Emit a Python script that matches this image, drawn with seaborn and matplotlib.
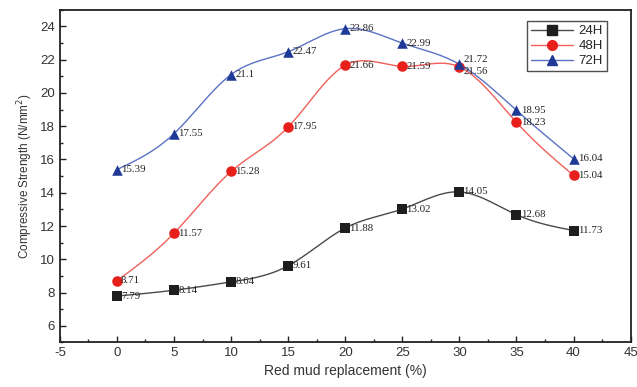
import numpy as np
import pandas as pd
import matplotlib
matplotlib.use("Agg")
import matplotlib.pyplot as plt
import seaborn as sns
from matplotlib.ticker import MultipleLocator, AutoMinorLocator

replacement = [0, 5, 10, 15, 20, 25, 30, 35, 40]
strength_24h = [7.79, 8.14, 8.64, 9.61, 11.88, 13.02, 14.05, 12.68, 11.73]
strength_48h = [8.71, 11.57, 15.28, 17.95, 21.66, 21.59, 21.56, 18.23, 15.04]
strength_72h = [15.39, 17.55, 21.1, 22.47, 23.86, 22.99, 21.72, 18.95, 16.04]
series_names = ["24H", "48H", "72H"]


def natural_spline(x, y, n=300):
    """Smooth connecting curve through the measured points (natural cubic spline)."""
    x = np.asarray(x, float)
    y = np.asarray(y, float)
    k = len(x)
    h = np.diff(x)
    A = np.zeros((k, k))
    b = np.zeros(k)
    A[0, 0] = A[-1, -1] = 1
    for i in range(1, k - 1):
        A[i, i - 1] = h[i - 1]
        A[i, i] = 2 * (h[i - 1] + h[i])
        A[i, i + 1] = h[i]
        b[i] = 6 * ((y[i + 1] - y[i]) / h[i] - (y[i] - y[i - 1]) / h[i - 1])
    M = np.linalg.solve(A, b)
    xs = np.linspace(x[0], x[-1], n)
    idx = np.clip(np.searchsorted(x, xs) - 1, 0, k - 2)
    x0, x1 = x[idx], x[idx + 1]
    hh = x1 - x0
    t0 = x1 - xs
    t1 = xs - x0
    ys = (M[idx] * t0**3 + M[idx + 1] * t1**3) / (6 * hh) \
        + (y[idx] / hh - M[idx] * hh / 6) * t0 \
        + (y[idx + 1] / hh - M[idx + 1] * hh / 6) * t1
    return xs, ys


sns.set_theme(style="ticks")
plt.rcParams["font.family"] = ["Liberation Sans", "DejaVu Sans"]
plt.rcParams["axes.unicode_minus"] = False

fig, ax = plt.subplots(figsize=(6.37, 3.87), dpi=100)
fig.subplots_adjust(left=0.094, right=0.99, top=0.975, bottom=0.115)

styles = {
    "24H": dict(line="#4a4a4a", marker="s", face="#1e1e1e", ms=7),
    "48H": dict(line="#f0605a", marker="o", face="#e8201c", ms=8),
    "72H": dict(line="#5b72c4", marker="^", face="#1f3a96", ms=8),
}

df = pd.DataFrame({
    "replacement": replacement * 3,
    "strength": strength_24h + strength_48h + strength_72h,
    "series": np.repeat(series_names, len(replacement)),
})

# small vertical nudges where two value labels would collide
nudge = {("72H", 30): 3.5, ("48H", 30): -3.5}

for name, vals in zip(series_names, [strength_24h, strength_48h, strength_72h]):
    st = styles[name]
    xs, ys = natural_spline(replacement, vals)
    ax.plot(xs, ys, color=st["line"], lw=1.0, zorder=2)
    sub = df[df["series"] == name]
    sns.scatterplot(data=sub, x="replacement", y="strength", ax=ax,
                    marker=st["marker"], color=st["face"], s=st["ms"] ** 2 * 0.9,
                    edgecolor=st["face"], linewidth=0, zorder=3, legend=False)
    for xv, yv in zip(replacement, vals):
        dy = nudge.get((name, xv), 0)
        ax.annotate(f"{yv:g}", (xv, yv), xytext=(3, dy), textcoords="offset points",
                    ha="left", va="center", fontsize=7.8,
                    family=["Liberation Serif", "DejaVu Serif"], color="#222222",
                    zorder=4)

# legend with line-through-marker handles
handles = [plt.Line2D([], [], color=styles[n]["line"], lw=1.0,
                      marker=styles[n]["marker"], markerfacecolor=styles[n]["face"],
                      markeredgecolor=styles[n]["face"], markersize=7)
           for n in series_names]
leg = ax.legend(handles, series_names, loc="upper right", bbox_to_anchor=(0.97, 0.985),
                frameon=True, fancybox=False, edgecolor="#222222", fontsize=9.5,
                handlelength=3.2, borderpad=0.3, labelspacing=0.2, handletextpad=0.4)
leg.get_frame().set_linewidth(1.0)

ax.set_xlim(-5, 45)
ax.set_ylim(5, 25)
ax.xaxis.set_major_locator(MultipleLocator(5))
ax.set_yticks(np.arange(6, 25, 2))
ax.xaxis.set_minor_locator(AutoMinorLocator(2))
ax.yaxis.set_minor_locator(AutoMinorLocator(2))
ax.tick_params(which="both", direction="in", color="#222222", width=1.0,
               top=False, right=False)
ax.tick_params(which="major", length=4, labelsize=9.5, labelcolor="#333333")
ax.tick_params(which="minor", length=2.5)
for sp in ax.spines.values():
    sp.set_color("#222222")
    sp.set_linewidth(1.3)

ax.set_xlabel("Red mud replacement (%)", fontsize=10, color="#333333", labelpad=3)
ax.set_ylabel("Compressive Strength (N/mm$^2$)", fontsize=8.5, color="#333333", labelpad=4)

fig.savefig("out.png", dpi=100)
